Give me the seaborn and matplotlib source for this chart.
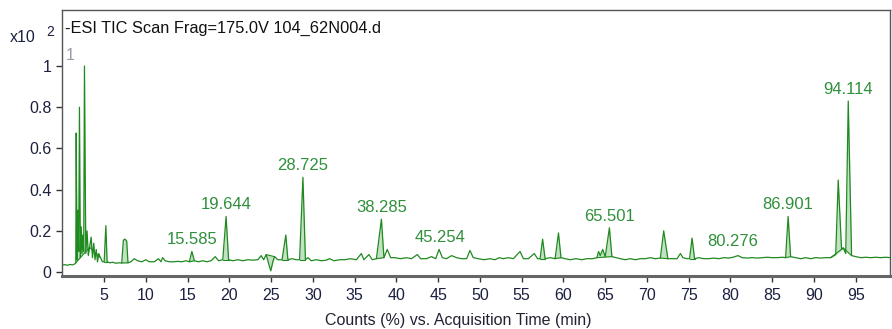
import numpy as np
import matplotlib
matplotlib.use("Agg")
import matplotlib.pyplot as plt
import seaborn as sns

# TIC trace (time in min, counts x10^2)
times = [0.0, 0.3, 0.6, 0.9, 1.2, 1.5, 1.6, 1.65, 1.75, 1.85, 1.95, 2.04, 2.15, 2.25, 2.35, 2.45,
         2.55, 2.64, 2.8, 2.95, 3.1, 3.25, 3.44, 3.6, 3.75, 3.9, 4.05, 4.2, 4.35, 4.55, 4.8, 5.0,
         5.2, 5.35, 5.7, 6.0, 6.4, 6.8, 7.1, 7.3, 7.5, 7.7, 7.85, 8.2, 8.6, 9.0, 9.5, 10.0,
         10.4, 11.0, 11.5, 11.8, 12.0, 12.3, 12.8, 13.3, 13.8, 14.3, 14.8, 15.2, 15.5, 15.8, 16.3, 16.8,
         17.3, 17.8, 18.3, 18.7, 19.2, 19.6, 19.9, 20.4, 21.0, 21.6, 22.2, 22.8, 23.4, 23.8, 24.1, 24.4,
         24.7, 24.95, 25.2, 25.4, 25.8, 26.3, 26.75, 27.0, 27.5, 28.0, 28.4, 28.8, 29.1, 29.4, 29.8, 30.4,
         31.0, 31.6, 32.0, 32.5, 33.2, 33.8, 34.5, 35.2, 35.8, 36.1, 36.7, 37.1, 37.6, 38.2, 38.5, 38.9,
         39.3, 39.8, 40.5, 41.2, 41.8, 42.5, 42.9, 43.6, 44.2, 44.7, 45.1, 45.5, 46.0, 46.6, 47.2, 47.8,
         48.4, 48.8, 49.2, 49.8, 50.5, 51.2, 51.8, 52.3, 52.8, 53.4, 54.0, 54.8, 55.2, 55.8, 56.5, 56.9,
         57.2, 57.5, 57.8, 58.4, 59.0, 59.4, 59.7, 60.2, 60.8, 61.5, 62.2, 62.8, 63.5, 64.0, 64.2, 64.4,
         64.7, 65.0, 65.5, 65.8, 66.3, 66.8, 67.4, 68.0, 68.6, 69.2, 69.8, 70.4, 71.0, 71.6, 72.0, 72.5,
         73.0, 73.6, 74.0, 74.3, 74.8, 75.1, 75.4, 75.7, 76.2, 76.8, 77.4, 78.0, 78.6, 79.2, 79.8, 80.3,
         80.9, 81.4, 82.0, 82.6, 83.2, 83.8, 84.4, 85.0, 85.6, 86.2, 86.6, 86.9, 87.2, 87.8, 88.4, 89.0,
         89.6, 90.2, 90.8, 91.4, 92.0, 92.6, 92.9, 93.3, 93.5, 93.8, 94.1, 94.5, 95.0, 95.6, 96.2, 96.8,
         97.4, 98.0, 98.6, 99.2]
counts = [0.034, 0.036, 0.033, 0.037, 0.035, 0.040, 0.045, 0.675, 0.060, 0.300, 0.100, 0.800, 0.070, 0.220, 0.090, 0.180,
          0.100, 1.000, 0.090, 0.200, 0.080, 0.120, 0.170, 0.070, 0.140, 0.060, 0.110, 0.050, 0.090, 0.070, 0.050, 0.050,
          0.225, 0.050, 0.045, 0.048, 0.043, 0.045, 0.044, 0.155, 0.160, 0.150, 0.045, 0.050, 0.065, 0.055, 0.050, 0.060,
          0.050, 0.050, 0.065, 0.050, 0.070, 0.055, 0.050, 0.050, 0.052, 0.050, 0.055, 0.050, 0.100, 0.055, 0.050, 0.055,
          0.050, 0.055, 0.075, 0.055, 0.060, 0.270, 0.060, 0.055, 0.060, 0.055, 0.060, 0.058, 0.060, 0.080, 0.060, 0.085,
          0.040, 0.006, 0.050, 0.075, 0.060, 0.060, 0.180, 0.060, 0.065, 0.060, 0.060, 0.460, 0.060, 0.070, 0.055, 0.060,
          0.055, 0.058, 0.065, 0.055, 0.060, 0.060, 0.065, 0.060, 0.090, 0.060, 0.085, 0.060, 0.065, 0.257, 0.070, 0.110,
          0.070, 0.070, 0.065, 0.070, 0.065, 0.085, 0.065, 0.065, 0.075, 0.065, 0.110, 0.070, 0.065, 0.080, 0.070, 0.065,
          0.065, 0.105, 0.070, 0.065, 0.060, 0.065, 0.060, 0.070, 0.065, 0.070, 0.065, 0.100, 0.065, 0.065, 0.090, 0.065,
          0.065, 0.160, 0.065, 0.070, 0.065, 0.190, 0.070, 0.065, 0.060, 0.065, 0.060, 0.065, 0.065, 0.070, 0.100, 0.080,
          0.110, 0.075, 0.215, 0.075, 0.070, 0.065, 0.060, 0.065, 0.060, 0.065, 0.065, 0.070, 0.065, 0.068, 0.200, 0.065,
          0.065, 0.065, 0.090, 0.070, 0.065, 0.065, 0.165, 0.065, 0.070, 0.065, 0.065, 0.068, 0.065, 0.070, 0.068, 0.072,
          0.080, 0.070, 0.068, 0.070, 0.068, 0.070, 0.072, 0.070, 0.070, 0.072, 0.070, 0.270, 0.075, 0.070, 0.065, 0.070,
          0.065, 0.070, 0.068, 0.070, 0.070, 0.085, 0.447, 0.110, 0.117, 0.090, 0.830, 0.080, 0.075, 0.070, 0.072, 0.070,
          0.072, 0.070, 0.072, 0.070]

# integrated peak windows (start/end times are points of the trace)
peak_start = [1.6, 3.25, 5.0, 7.1, 15.2, 19.2, 24.4, 26.3, 28.4, 37.6, 57.2, 59.0, 64.0, 71.6, 75.1, 86.6, 92.0, 93.5]
peak_end = [3.25, 4.55, 5.35, 7.85, 15.8, 19.9, 25.4, 27.0, 29.1, 38.5, 57.8, 59.7, 65.8, 72.5, 75.7, 87.2, 93.5, 94.5]

# labelled retention times and apex heights
label_times = [15.585, 19.644, 28.725, 38.285, 45.254, 65.501, 80.276, 86.901, 94.114]
label_heights = [0.100, 0.270, 0.460, 0.257, 0.110, 0.215, 0.090, 0.270, 0.830]

LINE = "#1f8a1f"
FILL = "#b9dcb9"
TEXT = "#2f8f3a"

sns.set_theme(style="white")
plt.rcParams["font.family"] = ["Liberation Sans", "DejaVu Sans"]

t = np.array(times)
c = np.array(counts)

fig = plt.figure(figsize=(8.92, 3.29), dpi=100)
ax = fig.add_axes([62 / 892, 1 - 276 / 329, 828 / 892, 266 / 329])

for s, e in zip(peak_start, peak_end):
    i0 = int(np.argmin(np.abs(t - s)))
    i1 = int(np.argmin(np.abs(t - e)))
    seg_t = t[i0:i1 + 1]
    seg_c = c[i0:i1 + 1]
    base = np.linspace(seg_c[0], seg_c[-1], len(seg_t))
    ax.fill_between(seg_t, base, seg_c, color=FILL, alpha=0.85, lw=0)
    ax.plot([seg_t[0], seg_t[-1]], [seg_c[0], seg_c[-1]], color=LINE, lw=0.8)

sns.lineplot(x=t, y=c, ax=ax, color=LINE, lw=0.9, estimator=None, sort=False)

for lt, lh in zip(label_times, label_heights):
    ax.annotate(f"{lt:.3f}", (lt, lh), xytext=(0, 3), textcoords="offset points",
                ha="center", va="bottom", fontsize=12, color=TEXT)

ax.set_xlim(-0.05, 99.1)
ax.set_ylim(-0.019, 1.272)
ax.set_xticks(range(5, 100, 5))
ax.set_yticks([0, 0.2, 0.4, 0.6, 0.8, 1.0])
ax.set_yticklabels(["0", "0.2", "0.4", "0.6", "0.8", "1"])
ax.tick_params(axis="both", which="both", direction="out", length=4, width=1,
               colors="#333333", labelcolor="#1c2040", labelsize=11.5, left=True, bottom=True)
ax.tick_params(axis="x", pad=5)
for side, sp in ax.spines.items():
    sp.set_color("#555555")
    sp.set_linewidth(1)
ax.spines["bottom"].set_linewidth(2.2)
ax.spines["bottom"].set_color("#666666")

ax.text(0.004, 0.93, "-ESI TIC Scan Frag=175.0V 104_62N004.d", transform=ax.transAxes,
        ha="left", va="center", fontsize=11.8, color="#111111")
ax.text(0.004, 0.83, "1", transform=ax.transAxes, ha="left", va="center",
        fontsize=11.5, color="#9a9aa8")
fig.text(10 / 892, 1 - 37 / 329, "x10", ha="left", va="center", fontsize=11.5, color="#1c2040")
fig.text(46 / 892, 1 - 32 / 329, "2", ha="left", va="center", fontsize=10, color="#1c2040")
fig.text(458 / 892, 1 - 320 / 329, "Counts (%) vs. Acquisition Time (min)", ha="center",
         va="center", fontsize=11.5, color="#222233")

fig.savefig("out.png", dpi=100)
plt.close(fig)
